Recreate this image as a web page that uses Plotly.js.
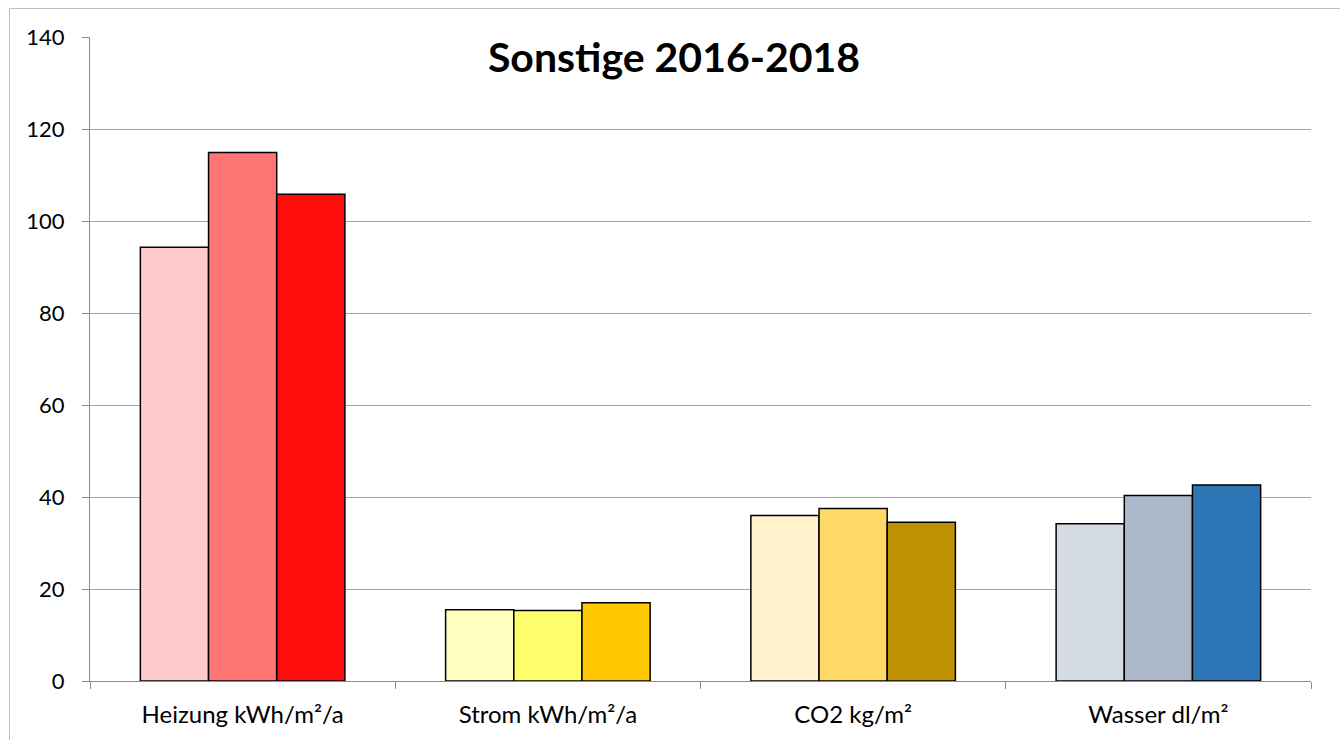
<!DOCTYPE html>
<html>
<head>
<meta charset="utf-8">
<script src="https://cdn.plot.ly/plotly-3.0.1.min.js"></script>
<style>
  html, body { margin: 0; padding: 0; background: #fff; }
  #chart { width: 1340px; height: 740px; position: absolute; left: 0; top: 0; }
  #frame { position: absolute; left: 9px; top: 8px; width: 1340px; height: 740px;
           border-left: 1px solid #bfbfbf; border-top: 1px solid #bfbfbf; pointer-events: none; }
</style>
</head>
<body>
<div id="chart"></div>
<div id="frame"></div>
<script>
const categories = ["Heizung kWh/m²/a", "Strom kWh/m²/a", "CO2 kg/m²", "Wasser dl/m²"];
const years = ["2016", "2017", "2018"];
const values2016 = [94.3, 15.5, 36.0, 34.2];
const values2017 = [114.9, 15.3, 37.5, 40.3];
const values2018 = [105.8, 17.0, 34.5, 42.6];
const colors2016 = ["#FFCCCC", "#FFFFC0", "#FFF2CC", "#D6DCE5"];
const colors2017 = ["#FF7575", "#FFFF6B", "#FFD966", "#ADB9CA"];
const colors2018 = ["#FF0D0D", "#FFC800", "#BF9000", "#2E75B6"];
const yTicks = [0, 20, 40, 60, 80, 100, 120, 140];

const series = [values2016, values2017, values2018];
const colorSets = [colors2016, colors2017, colors2018];

const traces = series.map((vals, i) => ({
  type: "bar",
  name: years[i],
  x: categories,
  y: vals,
  marker: { color: colorSets[i], line: { color: "#000000", width: 1.5 } },
  hoverinfo: "x+y"
}));

const layout = {
  width: 1340,
  height: 740,
  margin: { l: 90, r: 29, t: 37, b: 59 },
  paper_bgcolor: "rgba(0,0,0,0)",
  plot_bgcolor: "#ffffff",
  barmode: "group",
  bargap: 0.33,
  bargroupgap: 0,
  showlegend: false,
  font: { family: "Lato, 'Open Sans', sans-serif", color: "#000000" },
  title: {
    text: "<b>Sonstige 2016-2018</b>",
    font: { family: "Lato, 'Open Sans', sans-serif", size: 41, color: "#000000" },
    x: 0.503, xanchor: "center",
    y: 1 - 58 / 740, yanchor: "middle",
    xref: "container", yref: "container"
  },
  xaxis: {
    type: "category",
    showline: true,
    linecolor: "#8c8c8c",
    linewidth: 1,
    showgrid: false,
    ticks: "outside",
    tickson: "boundaries",
    ticklen: 7,
    tickcolor: "#8c8c8c",
    tickfont: { size: 24, color: "#000000" },
    ticklabelstandoff: 12,
    zeroline: false,
    fixedrange: true
  },
  yaxis: {
    range: [0, 140],
    tickvals: yTicks,
    ticktext: yTicks.map(String),
    showline: true,
    linecolor: "#8c8c8c",
    linewidth: 1,
    showgrid: true,
    gridcolor: "#a6a6a6",
    gridwidth: 1,
    ticks: "outside",
    ticklen: 7,
    tickcolor: "#8c8c8c",
    tickfont: { size: 22, color: "#000000" },
    ticklabelstandoff: 13,
    zeroline: false,
    fixedrange: true
  }
};

Plotly.newPlot("chart", traces, layout, { displayModeBar: false, staticPlot: true });
</script>
</body>
</html>
